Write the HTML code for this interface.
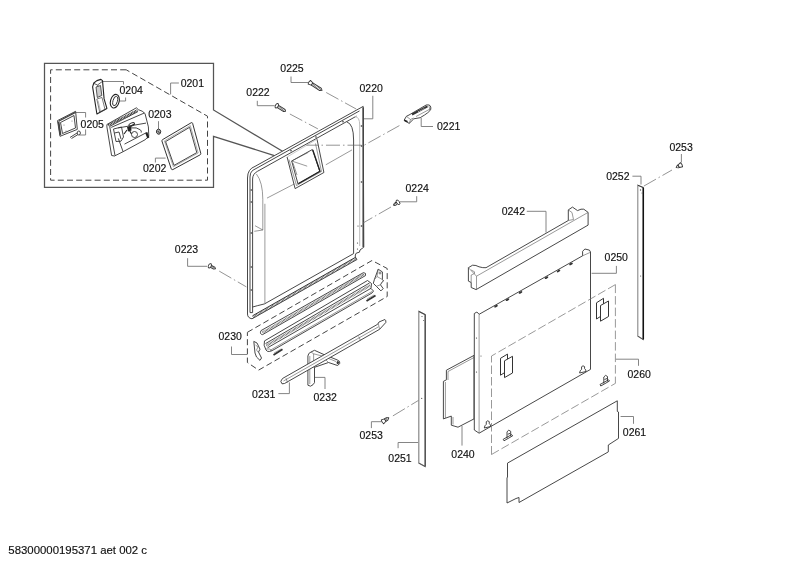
<!DOCTYPE html>
<html><head><meta charset="utf-8"><style>
html,body{margin:0;padding:0;background:#fff;width:800px;height:566px;overflow:hidden}
svg{display:block;will-change:transform}
text{font-family:"Liberation Sans",sans-serif;font-size:10.5px;fill:#111;stroke:#111;stroke-width:.15}
.l{fill:none;stroke:#777;stroke-width:.9}
.p{fill:#fff;stroke:#333;stroke-width:.9;stroke-linejoin:round}
.n{fill:none;stroke:#333;stroke-width:.9;stroke-linejoin:round}
.t{fill:none;stroke:#555;stroke-width:.6}
.d{fill:none;stroke:#444;stroke-width:1;stroke-dasharray:6 3.2}
.dd{fill:none;stroke:#777;stroke-width:.75;stroke-dasharray:8.5 3}
.c{fill:none;stroke:#666;stroke-width:.7;stroke-dasharray:14 3 1.5 3}
</style></head><body>
<svg width="800" height="566" viewBox="0 0 800 566">
<!-- LABELS -->
<g id="labels">
<text x="180.7" y="87.3">0201</text>
<text x="119.5" y="94">0204</text>
<text x="80.6" y="127.5">0205</text>
<text x="148.2" y="117.8">0203</text>
<text x="143" y="172.2">0202</text>
<text x="280.3" y="72.4">0225</text>
<text x="246.3" y="96.4">0222</text>
<text x="359.5" y="92">0220</text>
<text x="437" y="130">0221</text>
<text x="405.5" y="191.8">0224</text>
<text x="174.8" y="252.8">0223</text>
<text x="218.5" y="340">0230</text>
<text x="252.1" y="397.7">0231</text>
<text x="313.5" y="400.7">0232</text>
<text x="359.5" y="438.9">0253</text>
<text x="388.3" y="462">0251</text>
<text x="451.3" y="457.6">0240</text>
<text x="501.7" y="214.9">0242</text>
<text x="604.6" y="261">0250</text>
<text x="627.5" y="378.3">0260</text>
<text x="622.8" y="436.4">0261</text>
<text x="606.2" y="180.4">0252</text>
<text x="669.4" y="150.8">0253</text>
<text x="8.3" y="554" style="font-size:11.4px">58300000195371 aet 002 c</text>
</g>
<!-- LEADERS -->
<g class="l">
<path d="M178.9,83 H170.6 V94.4"/>
<path d="M102,81.5 H123.5 V84.5"/>
<path d="M119,101 H125.6 V97.5"/>
<path d="M76,112.5 H85.6 V117.5 M85.6,129.4 V135 H79.4"/>
<path d="M158.5,121.2 V129"/>
<path d="M165.6,158.1 H155.4 V162.5"/>
<path d="M291,76.5 V82.5 H308.2"/>
<path d="M257.3,100.8 V105.7 H274.6"/>
<path d="M372.8,95.8 V118.8 H363.8"/>
<path d="M421.2,118 V126.5 H433"/>
<path d="M416.7,196.2 V201.8 H400"/>
<path d="M187.6,258.2 V266.3 H207"/>
<path d="M231.5,346.5 V354.5 H247"/>
<path d="M278.4,393.6 H289.4 V382.4"/>
<path d="M325,389 V377.4 H315"/>
<path d="M371.4,428.1 V421.7 H381.5"/>
<path d="M398.1,448.2 V442.5 H418.2"/>
<path d="M462,426 V445.6"/>
<path d="M526.8,211.3 H546 V232.6"/>
<path d="M616.4,265.9 V273.3 H591.6"/>
<path d="M615.8,359.2 H638.5 V365.8"/>
<path d="M620.6,416.5 H633.5 V423.8"/>
<path d="M632.4,176.2 H641 V184.5"/>
<path d="M681.4,154 V162.5"/>
</g>

<!-- DOOR 0220 -->
<g id="door">
<path class="p" d="M363.2,106.4 L363.8,247.2 L360,250 L359.4,252.2 L356.3,253.1 L355.3,255 L355.3,257 L357,259.5 L252,318.8 Q247.5,318 247.5,314 V178 Q247.5,169 255,166.4 Z"/>
<path d="M363.2,107.5 V247" stroke="#444" stroke-width="1.5" fill="none"/>
<path class="n" d="M359.5,110.9 L252.5,170.5 Q250,172.5 250,177 V312.6 H252.6 V179 Q252.6,174 257.5,171.3 L356.5,116.1"/>
<path d="M355,116.5 Q359.7,117 359.7,125 V246" stroke="#bbb" stroke-width="1" fill="none"/>
<path class="n" d="M346.9,121.9 Q353.6,124 353.6,140 V253.6 L264.5,303.9 Q256,306 252.6,307" stroke-width=".8"/>
<path class="t" d="M256.4,174 Q262.8,182 262.8,199.5 V230 L254.3,231.3 M255,225.7 L262.8,230"/>
<path class="t" d="M264.9,203.8 V303.5" stroke="#aaa"/>
<path class="t" d="M267,198.1 L294.2,184 M325.8,164.8 L352,149.9"/>
<!-- hatched bottom seal -->
<path d="M252.5,315.8 L355.5,257.3" stroke="#333" stroke-width="1" fill="none"/>
<path d="M253,317.2 L356,258.6" stroke="#444" stroke-width="2.2" stroke-dasharray=".6 .8" fill="none"/>
<!-- dots on frame -->
<g fill="#333">
<circle cx="251.3" cy="190" r=".8"/><circle cx="251.3" cy="202" r=".8"/><circle cx="251.3" cy="233" r=".8"/><circle cx="251.3" cy="267" r=".8"/><circle cx="251.3" cy="290" r=".8"/>
<circle cx="361.5" cy="126" r=".8"/><circle cx="361.5" cy="146" r=".8"/><circle cx="361.5" cy="182" r=".8"/><circle cx="361.5" cy="226" r=".8"/>
<circle cx="358" cy="226" r=".6"/><circle cx="357.5" cy="243" r=".6"/><circle cx="357.5" cy="249" r=".6"/>
<circle cx="291" cy="150.8" r=".8"/><circle cx="316" cy="137" r=".8"/><circle cx="343" cy="121.8" r=".8"/>
</g>
<!-- dispenser opening -->
<path class="n" d="M317,139.2 L323.9,172.5 L295.1,188.6 L287.1,157" stroke-width=".8"/><path d="M287.1,157 L317,139.2" stroke="#aaa" stroke-width=".6" fill="none"/>
<path class="t" d="M315.5,143.5 L321.5,171.5 L296.5,185.5 L289,159.5" stroke="#888"/>
<path class="n" d="M291.7,161 L312.4,149.5 L319.8,171.4 L298,184 Z" stroke-width=".7"/>
<path d="M312.8,150 L320,171.2 L298.5,183.5" stroke="#222" stroke-width="1.3" fill="none"/>
<path class="t" d="M291.7,161 L307.2,166.2 M291.7,161 L308.3,152.4 M293,163 L297,175" stroke="#444"/>
</g>
<!-- ZOOM BOX -->
<path d="M282.5,151.3 L213.5,110 V63.3 H44.5 V187.3 H213.5 V136.3 L274.4,155.6" fill="none" stroke="#555" stroke-width="1.25"/>
<path class="d" d="M126.2,69.8 H50.6 V180.2 H207.5 V116.2 Z"/>

<!-- CHAIN LINES -->
<g class="c">
<path d="M326.2,92.5 L356.2,109"/>
<path d="M289.9,114 L317.9,128.9"/>
<path d="M399.4,125.6 L364.2,145.2 H306.5"/>
<path d="M391,207 L363,223"/>
<path d="M219.2,271.1 L246.4,286.9"/>
<path d="M392.9,415.9 L421.8,398.4"/>
<path d="M643.8,186.1 L672,170"/>
</g>
<!-- SCREWS -->
<g transform="translate(309.8,82.6) rotate(32.4)"><path class="p" d="M2.6,-1.4 H12.564683312726043 L14.564683312726043,0 L12.564683312726043,1.4 H2.6 Z"/><path d="M4,0 H13.064683312726043" stroke="#444" stroke-width="2.5" stroke-dasharray=".6 .8" fill="none"/><path class="p" d="M-0.6,-2.2 Q-1.6,0 -0.6,2.2 L2.6,1.4 L2.6,-1.4 Z"/></g>
<g transform="translate(276.8,105.8) rotate(31.5)"><path class="p" d="M1.3,-1.3 H8.824727599312258 L10.324727599312258,0 L8.824727599312258,1.3 H1.3 Z"/><path d="M2.5,0 H9.324727599312258" stroke="#444" stroke-width="2.2" stroke-dasharray=".6 .8" fill="none"/><ellipse cx="0" cy="0" rx="1.4" ry="2.4" class="p"/></g>
<g transform="translate(209.8,265.8) rotate(27.8)"><path class="p" d="M1.3,-1.2 H4.941273166075156 L6.441273166075156,0 L4.941273166075156,1.2 H1.3 Z"/><path d="M2.5,0 H5.441273166075156" stroke="#444" stroke-width="2.0" stroke-dasharray=".6 .8" fill="none"/><ellipse cx="0" cy="0" rx="1.4" ry="2.3" class="p"/></g>
<g transform="translate(398,202.3) rotate(146.3)"><path class="p" d="M1.3,-1.2 H3.9083269131959844 L5.408326913195984,0 L3.9083269131959844,1.2 H1.3 Z"/><path d="M2.5,0 H4.408326913195984" stroke="#444" stroke-width="2.0" stroke-dasharray=".6 .8" fill="none"/><ellipse cx="0" cy="0" rx="1.4" ry="2.6" class="p"/></g>
<g transform="translate(383,421.5) rotate(-32.5)"><path class="p" d="M2.6,-1.4 H4.87968022512675 L6.87968022512675,0 L4.87968022512675,1.4 H2.6 Z"/><path d="M4,0 H5.37968022512675" stroke="#444" stroke-width="2.5" stroke-dasharray=".6 .8" fill="none"/><path class="p" d="M-0.6,-2.3 Q-1.6,0 -0.6,2.3 L2.6,1.4 L2.6,-1.4 Z"/></g>
<g transform="translate(681,165) rotate(152.0)"><path class="p" d="M2.6,-1.4 H3.5470712993434423 L5.547071299343442,0 L3.5470712993434423,1.4 H2.6 Z"/><path d="M4,0 H4.047071299343442" stroke="#444" stroke-width="2.5" stroke-dasharray=".6 .8" fill="none"/><path class="p" d="M-0.6,-2.3 Q-1.6,0 -0.6,2.3 L2.6,1.4 L2.6,-1.4 Z"/></g>

<!-- CLIP 0221 -->
<g>
<path class="p" d="M404.1,120.2 L406.4,116.3 L409,115 L426.2,105 Q431.5,104 430.8,109.2 Q430,112 420.2,117.7 L413.8,118.8 L409.2,123.4 Z" stroke-width="1" stroke="#222"/>
<path d="M412,114.5 L427.5,106.3" stroke="#333" stroke-width="2" fill="none"/>
<path d="M418,111.8 L425,108" stroke="#ddd" stroke-width=".7" stroke-dasharray="1.5 1" fill="none"/>
<path d="M404.3,120.3 L407.5,121.8" stroke="#222" stroke-width="1.6" fill="none"/>
<path class="t" d="M409.2,123.4 L410.5,119.5 L406.4,116.3 M410.5,119.5 L413.5,118 M416,116.5 L430.5,108.8 M428.8,105.5 L430,110" stroke="#444"/>
</g>

<!-- ZOOM BOX PARTS -->
<g id="zparts">
<!-- handle 0204 -->
<path d="M93.8,83 L96.9,80.6 L100.9,79.4 L102.5,80.6 L104.1,98.9 L106.9,108.4 L96.9,114 L92.6,86.9 Z" fill="#fff" stroke="#222" stroke-width="1.1" stroke-linejoin="round"/>
<path d="M94,83.5 L97.5,85 L102.3,81.5 M97.5,85 L99.5,88" stroke="#333" stroke-width=".8" fill="none"/>
<path d="M96,87 L100.5,85.5 L101.8,95.5 L97.3,97.5 Z" fill="#ccc" stroke="#333" stroke-width=".8"/>
<path d="M96.8,99 L102,97.5 L105,109.5 L99.7,112 Z" fill="none" stroke="#444" stroke-width=".7"/>
<path d="M98,100.5 L100.5,111" stroke="#888" stroke-width=".6"/>
<!-- ring -->
<ellipse cx="114.8" cy="101.2" rx="4.3" ry="7" transform="rotate(15 114.8 101.2)" fill="#fff" stroke="#222" stroke-width="1.1"/>
<ellipse cx="115.2" cy="101" rx="2.2" ry="4.8" transform="rotate(15 115.2 101)" fill="none" stroke="#333" stroke-width=".9"/>
<!-- panel 0205 -->
<path class="p" d="M57.5,120.6 L75.6,111.3 L77.3,129.4 L60,136.3 Z" stroke-width="1.1"/>
<path class="n" d="M60.5,122.5 L74,115.5 L75.5,128 L62.5,133.5 Z" stroke-width=".7"/>
<path d="M58.5,121.5 L60.5,135" stroke="#444" stroke-width="1.8"/>
<path d="M59,121 L75.5,112.3" stroke="#444" stroke-width="1.4"/>
<g fill="#666"><circle cx="64" cy="125" r=".5"/><circle cx="72" cy="121" r=".5"/><circle cx="66" cy="131" r=".5"/></g>
<!-- small screw -->
<path class="n" d="M70,137.5 L77,133 M71.5,138.5 L78,134.5" stroke-width=".7"/>
<ellipse cx="78.8" cy="133" rx="1.6" ry="2" class="p" stroke-width=".8"/>
<!-- housing -->
<path class="p" d="M106.9,124.5 L136.4,107.8 L138.4,109.7 L142.2,111.2 L145,113.5 L148.4,126.9 L148.8,136.4 L145,139.8 L123.1,151.7 L114.5,156 L111.6,155.5 L106.9,126.9 Z" stroke-width="1" stroke="#222"/>
<path d="M108.3,125.2 L137.4,110.4" stroke="#333" stroke-width="2.4" stroke-dasharray="1 .6" fill="none"/>
<path class="n" d="M109.7,126.4 L137.9,111.6 M111.2,127.4 L144.1,113.1 M109.7,126.4 L115,155.5 M118.3,138.4 L123.1,151.7 M124.5,144.1 L146.5,132.6 M118.3,127.9 L146,123.1" stroke-width=".6" stroke="#444"/>
<path class="n" d="M113.5,129 L121.5,127 L123.5,137 L121,141.2 L116,141.5 Z M114.5,133 L119,132 L121,139" stroke-width=".6" stroke="#555"/>
<path d="M127,127 L131,126 L131.5,130.5 L128,131.5 Z" fill="#222"/>
<path d="M127,130 L124,134 M129.5,130.5 L131.5,134 M129,127 L134.5,124" stroke="#222" stroke-width="1.1" fill="none"/>
<ellipse cx="131.7" cy="124.5" rx="3" ry="1.5" transform="rotate(-25 131.7 124.5)" class="n" stroke-width=".7"/>
<path class="n" d="M130.7,127.9 Q137,127 140.3,129.8 Q141.8,131 141.2,132.6" stroke-width=".8"/>
<circle cx="134.5" cy="134.5" r="3" class="n" stroke-width=".6" stroke="#555"/>
<path d="M146.3,132.5 L148.3,138" stroke="#222" stroke-width="2.2" fill="none"/>
<path class="t" d="M110,116 M125,118 L130,116 M116,122 L122,119" stroke="#555"/>
<!-- nut 0203 -->
<path d="M156.5,132.8 Q156,129.5 158.3,129 Q160.5,129 160.8,131.8 L159.8,134 Q158,135 156.5,132.8 Z" fill="#aaa" stroke="#333" stroke-width="1"/>
<path d="M157.8,131 L159.5,133" stroke="#222" stroke-width=".8"/>
<!-- gasket 0202 -->
<path d="M162.6,139.6 L191.3,122.7 Q192.3,122.3 192.6,123.3 L200.8,153.4 Q201,154.4 200,154.9 L172.8,169.6 Q171.7,170 171.3,169 L161.9,141 Q161.7,140.1 162.6,139.6 Z" fill="#fff" stroke="#333" stroke-width="1"/>
<path d="M164.4,140.9 L190.3,125.6 L198.2,153 L173.4,166.8 Z" fill="none" stroke="#777" stroke-width=".6" stroke-linejoin="round"/>
<path d="M165.6,141.6 L189.6,127.3 L196.8,152.6 L174,165.4 Z" fill="none" stroke="#333" stroke-width=".9" stroke-linejoin="round"/>
</g>

<!-- RAILS 0230 -->
<g id="rails">
<path class="d" d="M247.4,332.3 L372,260.5 L387.2,268.5 V296.5 L258.6,370.1 L247.4,362.5 Z" stroke="#555" stroke-width=".9" stroke-dasharray="5.5 3.8"/>
<!-- top rod -->
<path class="p" d="M261,330.6 L363.5,272.6 Q366.5,272.8 365.5,275.6 L262.6,334.6 Q259.3,334.3 261,330.6 Z"/>
<path d="M262.5,332.5 L364,274.3" stroke="#555" stroke-width="2.2" stroke-dasharray=".7 .7" fill="none"/>
<!-- profile rail -->
<path class="p" d="M264.5,340.9 L367.5,280.5 L371.5,283.5 L371,288.5 L373.5,291 L372,293 L275,349 Q268,353.5 266,350 Q263,345 264.5,340.9 Z"/>
<path class="n" d="M265.5,343.6 L369.5,283" stroke-width=".7"/>
<path d="M266.5,345.6 L370.5,285.2" stroke="#555" stroke-width="2.4" stroke-dasharray=".7 .7" fill="none"/>
<path class="n" d="M267.5,347.8 L371,288.3" stroke-width=".7"/>
<path class="t" d="M270,350.4 L372,291.5" stroke="#888"/>
<path class="t" d="M266,349 Q270,348 272,351"/>
<!-- end caps -->
<path class="p" d="M378.2,269.2 L382.4,271.9 V279.5 L383.6,281 L382,282.1 L380.5,284.8 L383.2,288.6 L380.9,290.9 L376.3,286.3 L373.3,283.3 L374.4,279.5 Z" stroke-width=".9"/>
<path class="t" d="M378.2,269.2 L377,276.5 L382.4,279.5 M374.4,279.5 L377,276.5 M376.3,286.3 L380.5,284.8" stroke="#555"/>
<circle cx="380" cy="273" r="1" fill="none" stroke="#444" stroke-width=".7"/>
<path class="p" d="M253.8,341.4 L257,343 L260,349.2 L258.5,352 L261.5,358 L260,360.4 L256.5,357 L255,353 Z" stroke-width=".8"/>
<path class="t" d="M255.5,345 L258,347 L256.5,350 L258,352"/>
<!-- small clips -->
<path d="M366.5,301 L375.5,295.5" stroke="#333" stroke-width="1.8" fill="none"/>
<path d="M367,299 L374,295" stroke="#777" stroke-width=".6" fill="none"/>
<path d="M273.5,355 L282.5,349.3" stroke="#333" stroke-width="1.8" fill="none"/>
<path d="M274,353 L281,349" stroke="#777" stroke-width=".6" fill="none"/>
</g>
<!-- BRACKET 0232 -->
<g>
<path class="p" d="M307.9,385.2 V356 Q308.2,353 311,352 L314.5,350.3 L324,354.6 L337.2,359.9 Q340.5,361 339.8,363.5 L337.5,365.5 L328.5,362.5 L314.5,367.3 V382.6 Q313.5,385 310.5,386.2 Z" stroke-width=".85"/>
<path class="t" d="M309.8,356 V384 M311,352 L313.6,353.8 L323.2,356.3 L336,361.5 M313.6,353.8 V367.5 M324,358 L328.5,362.5" stroke="#777"/>
<ellipse cx="337.8" cy="362.6" rx="1.2" ry="1.6" fill="#333"/>
</g>
<!-- ROD 0231 -->
<g>
<path class="p" d="M280.8,381.3 L282.5,378.5 L377.6,324.3 L379,322 L384.9,319.5 Q386.3,320.5 385.8,322.5 L379.6,329.3 L284.5,383.5 L282,383.8 Z" stroke-width=".85"/>
<path class="t" d="M283.5,381 L378.5,326.8" stroke="#999"/>
<path class="t" d="M286,378.2 L287.5,382.5 M358.7,336.5 L360.5,340.5 M378.3,323.5 L379.6,329.3" stroke="#444"/>
</g>
<!-- STRIP 0251 -->
<g>
<path d="M418.8,311.4 L425.2,314.6 V466.6 L418.8,463.1 Z" fill="#fff" stroke="#888" stroke-width="1.2"/>
<path d="M418.8,311.4 L425.2,314.6" stroke="#333" stroke-width=".9"/>
<path d="M425.2,314.6 V466.6" stroke="#444" stroke-width="1.2"/>
<path d="M418.8,463.1 L425.2,466.6" stroke="#555" stroke-width=".9"/>
<g fill="#555"><circle cx="422" cy="316.5" r=".6"/><circle cx="423.5" cy="320.5" r=".5"/><circle cx="421.7" cy="398.4" r=".6"/></g>
</g>
<!-- STRIP 0252 -->
<g>
<path d="M637.8,185.2 L643.2,187.5 V339.5 L637.8,336.1 Z" fill="#fff" stroke="#888" stroke-width="1.1"/>
<path d="M637.8,185.2 L643.2,187.5" stroke="#333" stroke-width=".9"/>
<path d="M643.3,187.5 V339.5" stroke="#111" stroke-width="1.5"/>
<path d="M637.8,336.1 L643.2,339.5" stroke="#555" stroke-width=".9"/>
<g fill="#555"><circle cx="640.5" cy="190" r=".7"/><circle cx="642" cy="193" r=".5"/><circle cx="640.6" cy="276" r=".6"/></g>
</g>
<!-- PLATE 0240 -->
<g>
<path class="p" d="M446.4,370.2 L474,355.4 V418.9 L458,427.2 L451.3,425.2 V416.1 L443.4,418.9 V381.4 L446.4,379.8 Z" stroke-width=".9"/>
<path class="t" d="M445.4,382 V418 M448,371.5 L474,357.5 M448,371.5 V380 M453,417 V424.5" stroke="#777"/>
</g>
<!-- PANEL 0250 -->
<g>
<path class="p" d="M474.3,313.5 L476.9,312 L479.1,314.3 L582.6,255.8 V251.3 L584.9,249 L589.4,250.1 L590.5,252 V369.4 L479.1,433.2 L474.3,430 Z" stroke-width=".9"/>
<path class="t" d="M479.1,314.3 V433" stroke="#888"/>
<path class="t" d="M582.6,255.8 L590,252.5"/>
<g fill="#333">
<ellipse cx="496" cy="306.2" rx="2" ry="1" transform="rotate(-30 496 306.2)"/><ellipse cx="507.5" cy="299.7" rx="2" ry="1" transform="rotate(-30 507.5 299.7)"/><ellipse cx="520.5" cy="292.4" rx="2" ry="1" transform="rotate(-30 520.5 292.4)"/><ellipse cx="546.5" cy="277.7" rx="2" ry="1" transform="rotate(-30 546.5 277.7)"/><ellipse cx="558.5" cy="271.0" rx="2" ry="1" transform="rotate(-30 558.5 271.0)"/><ellipse cx="571" cy="263.9" rx="2" ry="1" transform="rotate(-30 571 263.9)"/>
<circle cx="476.5" cy="338" r=".6"/><circle cx="476.5" cy="372" r=".6"/><circle cx="481" cy="356" r=".5"/>
</g>
<!-- keyholes -->
<path class="n" d="M579.6,373 Q579.8,370.5 581.6,369.3 Q580.8,366 583,365.8 Q585.3,366 584.6,368.6 Q586.2,369.8 586,371.5 Z" stroke-width=".9"/>
<path class="n" d="M484.3,428 Q484.5,425.5 486.3,424.3 Q485.5,421 487.7,420.8 Q490,421 489.3,423.6 Q490.9,424.8 490.7,426.5 Z" stroke-width=".9"/>
</g>
<!-- HANDLE 0242 -->
<g>
<path class="p" d="M468.4,267.7 L472.6,265.2 Q476,265 479,266.8 Q483,268 486,267.7 L568.3,220.5 V209.9 L572.5,207.1 L577.5,210.6 L581,209.2 H583.8 L588.1,212.4 V225.1 L476.1,289.6 L471.2,287.5 V282.5 L468.4,281.1 Z" stroke-width="1"/>
<path class="t" d="M468.4,267.7 L476.5,276.2 L588.1,212.4 M476.5,276.2 V289.6 M471.2,270 L474.5,271.8 V273.5 L471.2,275 V282.5" stroke="#777" stroke-width=".7"/>
<path class="t" d="M568.3,209.9 L572,212.5 L573.5,219.5 L568.3,220.5" stroke="#666"/>
</g>
<!-- DASHED 0260 + pads + clips -->
<g>
<path class="dd" d="M491.5,454.5 V355.9 M491.5,454.5 L615.5,383.3 M615.4,284.6 V383.3 M615.4,284.6 L491.7,355.9"/>
<path d="M596.5,302.8 L603.5,298.3 V314.5 L596.5,319 Z" fill="#fff" stroke="#333" stroke-width="1"/>
<path d="M600.5,305.5 L608.5,301 V316.5 L600.5,321.2 Z" fill="#fff" stroke="#333" stroke-width="1"/>
<path d="M500.5,358.3 L507.5,354.1 V370.8 L500.5,375.2 Z" fill="#fff" stroke="#333" stroke-width="1"/>
<path d="M504.5,360.8 L512.5,356.3 V373 L504.5,377.6 Z" fill="#fff" stroke="#333" stroke-width="1"/>
<g class="n" stroke-width=".9">
<path d="M600.8,386 L609.5,381 L608.5,379.8 L600,384.5 Z M603.8,383.5 V377 Q605.5,374 607.5,376.5 V381.5 M604.5,379.5 L607,378.5"/>
<path d="M504,440.8 L512.7,435.8 L511.7,434.6 L503.2,439.3 Z M507,438.3 V431.8 Q508.7,428.8 510.7,431.3 V436.3 M507.7,434.3 L510.2,433.3"/>
</g>
</g>
<!-- PLATE 0261 -->
<g>
<path class="p" d="M507.5,463.1 L617.3,400.8 V411.4 L618.5,412 V438.4 L608.3,445 V451.9 L519,502.5 V497.5 L516,498.5 L507,503 V478 L507.5,477 Z" stroke-width="1"/>
</g>
<!-- END -->
</svg>
</body></html>
